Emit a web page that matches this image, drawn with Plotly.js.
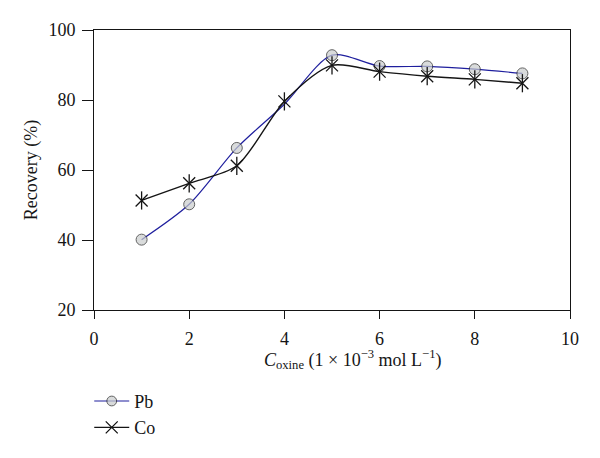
<!DOCTYPE html>
<html>
<head>
<meta charset="utf-8">
<script src="https://cdn.plot.ly/plotly-3.0.1.min.js"></script>
<style>
  html, body { margin: 0; padding: 0; background: #fff; }
  #chart { width: 600px; height: 458px; }
</style>
</head>
<body>
<div id="chart"></div>
<script>
// Oxine concentration (x) and recovery (%) for each metal
const oxine = [1, 2, 3, 4, 5, 6, 7, 8, 9];
const pbRecovery = [40.1, 50.2, 66.3, 78.8, 92.8, 89.7, 89.6, 88.8, 87.6];
const coRecovery = [51.3, 56.2, 61.2, 79.6, 89.9, 88.1, 86.8, 85.9, 84.8];

const serif = 'Liberation Serif, DejaVu Serif, serif';
const ink = '#151515';

// Pb circle at x=4 is hidden behind the Co marker in the original
const pbSizes = oxine.map(x => (x === 4 ? 0 : 11));

const pb = {
    x: oxine,
    y: pbRecovery,
    name: 'Pb',
    type: 'scatter',
    mode: 'lines+markers',
    line: { color: '#1f1f9e', width: 1.2, shape: 'spline', smoothing: 0.8 },
    marker: {
        symbol: 'circle',
        size: pbSizes,
        color: '#c9cdcd',
        line: { color: '#222', width: 1 }
    }
};

const co = {
    x: oxine,
    y: coRecovery,
    name: 'Co',
    type: 'scatter',
    mode: 'lines+markers',
    line: { color: ink, width: 1.4, shape: 'spline', smoothing: 0.8 },
    marker: {
        symbol: 'x-thin-open',
        size: 12,
        color: ink,
        line: { color: ink, width: 1.3 }
    }
};

// vertical arm that turns the x into a six-pointed star
const coStem = {
    x: oxine,
    y: coRecovery,
    type: 'scatter',
    mode: 'markers',
    showlegend: false,
    hoverinfo: 'skip',
    marker: {
        symbol: 'line-ns-open',
        size: 13,
        color: ink,
        line: { color: ink, width: 1.3 }
    }
};

const layout = {
    width: 600,
    height: 458,
    margin: { l: 94, r: 30, t: 30, b: 144 },
    paper_bgcolor: '#fff',
    plot_bgcolor: '#fff',
    font: { family: serif, size: 18, color: ink },
    showlegend: true,
    legend: {
        x: -0.01, y: -0.26,
        xanchor: 'left', yanchor: 'top',
        orientation: 'v',
        itemwidth: 35,
        font: { family: serif, size: 18, color: ink },
        tracegroupgap: 0
    },
    xaxis: {
        range: [0, 10],
        dtick: 2,
        ticks: 'outside',
        ticklen: 8,
        tickcolor: ink,
        ticklabelstandoff: 4,
        showline: true,
        linecolor: ink,
        linewidth: 1,
        mirror: true,
        showgrid: false,
        zeroline: false
    },
    yaxis: {
        range: [20, 100],
        dtick: 20,
        ticks: 'outside',
        ticklen: 11,
        tickcolor: ink,
        ticklabelstandoff: 3,
        showline: true,
        linecolor: ink,
        linewidth: 1,
        mirror: true,
        showgrid: false,
        zeroline: false,
        title: {
            text: 'Recovery (%)',
            font: { family: serif, size: 18 },
            standoff: 6
        }
    },
    annotations: [{
        text: '<i>C</i><sub>oxine</sub> (1 × 10<sup>−3</sup> mol L<sup>−1</sup>)',
        xref: 'paper', yref: 'paper',
        x: 0.544, y: -0.175,
        xanchor: 'center', yanchor: 'middle',
        showarrow: false,
        font: { family: serif, size: 18, color: ink }
    }]
};

Plotly.newPlot('chart', [pb, co, coStem], layout, { displayModeBar: false, staticPlot: true });
</script>
</body>
</html>
